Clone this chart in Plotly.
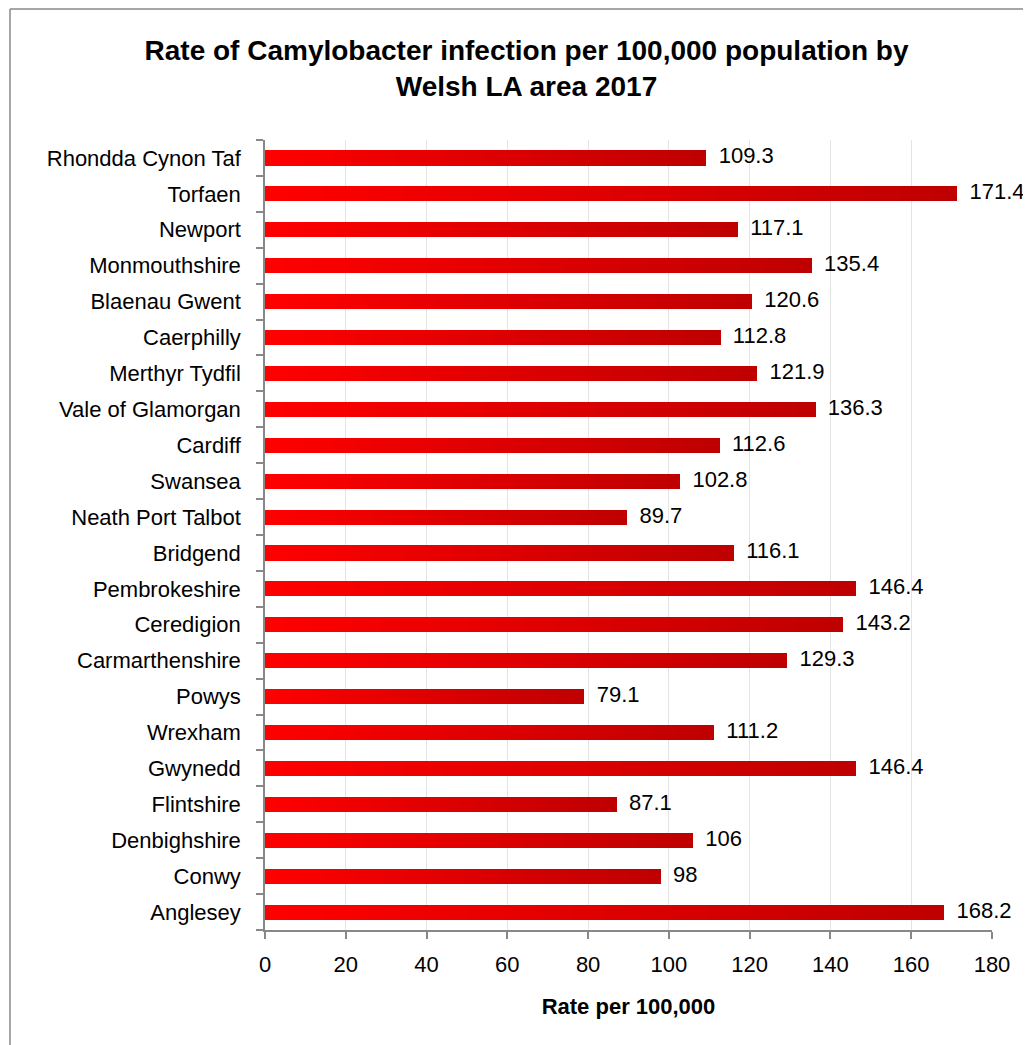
import plotly.graph_objects as go

areas = ["Rhondda Cynon Taf", "Torfaen", "Newport", "Monmouthshire", "Blaenau Gwent",
         "Caerphilly", "Merthyr Tydfil", "Vale of Glamorgan", "Cardiff", "Swansea",
         "Neath Port Talbot", "Bridgend", "Pembrokeshire", "Ceredigion", "Carmarthenshire",
         "Powys", "Wrexham", "Gwynedd", "Flintshire", "Denbighshire", "Conwy", "Anglesey"]
rates = [109.3, 171.4, 117.1, 135.4, 120.6, 112.8, 121.9, 136.3, 112.6, 102.8,
         89.7, 116.1, 146.4, 143.2, 129.3, 79.1, 111.2, 146.4, 87.1, 106, 98, 168.2]
rate_labels = ["109.3", "171.4", "117.1", "135.4", "120.6", "112.8", "121.9", "136.3",
               "112.6", "102.8", "89.7", "116.1", "146.4", "143.2", "129.3", "79.1",
               "111.2", "146.4", "87.1", "106", "98", "168.2"]
x_ticks = [0, 20, 40, 60, 80, 100, 120, 140, 160, 180]

FONT = "Liberation Sans"
N = 60
c0 = (255, 0, 0)
c1 = (190, 0, 0)

# page has an 8px body margin; the figure is sized/positioned to compensate
W, H = 1023, 1037
L, R, T, B = 257, 39, 132, 115
PW, PH = W - L - R, H - T - B

fig = go.Figure()
for k in range(N):
    t = (k + 0.5) / N
    col = "rgb(%d,%d,%d)" % tuple(round(a + (b - a) * t) for a, b in zip(c0, c1))
    fig.add_trace(go.Bar(
        x=[v / N for v in rates], y=areas, orientation="h",
        marker=dict(color=col, line=dict(width=0)),
        showlegend=False, hoverinfo="skip",
    ))

fig.add_trace(go.Scatter(
    x=rates, y=areas, mode="text", text=["  " + s for s in rate_labels],
    textposition="middle right", textfont=dict(family=FONT, size=22, color="#000"),
    showlegend=False, hoverinfo="skip", cliponaxis=False,
))

fig.update_layout(
    width=W, height=H,
    margin=dict(l=L, r=R, t=T, b=B),
    paper_bgcolor="white", plot_bgcolor="white",
    barmode="stack", bargap=0.58,
    title=dict(
        text="Rate of Camylobacter infection per 100,000 population by<br>Welsh LA area 2017",
        x=518.5 / W, xanchor="center", y=1 - 52 / H, yanchor="top",
        font=dict(family=FONT, size=28, color="#000", weight="bold"),
    ),
    xaxis=dict(
        range=[0, 180], tickvals=x_ticks, showgrid=True, gridcolor="#E4E4E4", gridwidth=1,
        zeroline=False, showline=True, linecolor="#888", linewidth=1.5,
        ticks="outside", ticklen=7, tickcolor="#888", tickwidth=1.5,
        ticklabelstandoff=7,
        tickfont=dict(family=FONT, size=22, color="#000"),
        title=dict(text="Rate per 100,000", standoff=22,
                   font=dict(family=FONT, size=22, color="#000", weight="bold")),
    ),
    yaxis=dict(
        categoryorder="array", categoryarray=areas[::-1], autorange=False, range=[-0.5, 21.5],
        showline=True, linecolor="#888", linewidth=1.5, showgrid=False,
        ticks="outside", ticklen=7, tickcolor="#888", tickwidth=1.5, tickson="boundaries",
        ticklabelstandoff=18,
        tickfont=dict(family=FONT, size=22, color="#000"),
    ),
    shapes=[
        dict(type="line", xref="paper", yref="paper", x0=(2 - L) / PW, x1=(W + 10 - L) / PW,
             y0=1 + (T - 1) / PH, y1=1 + (T - 1) / PH, line=dict(color="#888", width=1.5)),
        dict(type="line", xref="paper", yref="paper", x0=(2 - L) / PW, x1=(2 - L) / PW,
             y0=1 + (T - 1) / PH, y1=-(B + 10) / PH, line=dict(color="#888", width=1.5)),
    ],
)

fig.write_html("out.html")
